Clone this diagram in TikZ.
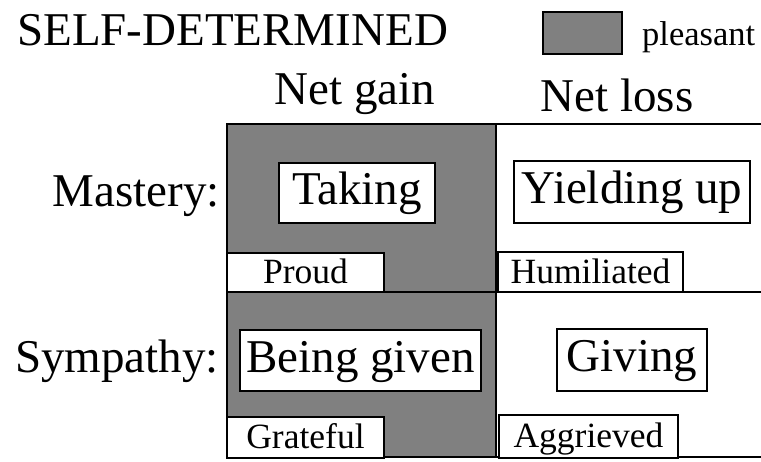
\documentclass[tikz,border=0pt]{standalone}
\usepackage{fontspec}
\setmainfont{Liberation Serif}
\begin{document}
\begin{tikzpicture}[x=1pt,y=-1pt,
  big/.style={font=\fontsize{47}{50}\selectfont},
  small/.style={font=\fontsize{35.5}{38}\selectfont},
  gridline/.style={line width=1.8pt,line cap=rect},
  cellbox/.style={draw,line width=1.8pt,fill=white,inner sep=0pt},
  bigbox/.style={cellbox,big,text height=33pt,text depth=10pt},
  smallbox/.style={cellbox,small,text height=26pt,text depth=4pt},
]
\useasboundingbox (0,0) rectangle (761,461);
% shaded column
\fill[gray] (227,124) rectangle (496,457);
% grid
\coordinate (tl) at (227,124);
\coordinate (tr) at (761,124);
\coordinate (ml) at (227,292);
\coordinate (mr) at (761,292);
\coordinate (bl) at (227,457);
\coordinate (br) at (761,457);
\coordinate (vt) at (496,124);
\coordinate (vb) at (496,457);
\draw[gridline] (tr) -- (tl) -- (bl) -- (br);
\draw[gridline] (ml) -- (mr);
\draw[gridline] (vt) -- (vb);
% title and legend
\node[big,anchor=base west,inner sep=0pt] (title) at (17,45) {SELF-DETERMINED};
\node[draw,line width=2.2pt,fill=gray,minimum width=79pt,minimum height=42pt,inner sep=0pt] (legbox) at (582.5,33) {};
\node[font=\fontsize{34.5}{37}\selectfont,anchor=base west,inner sep=0pt] (legtext) at (642,45) {pleasant};
% column headers
\node[big,anchor=base,inner sep=0pt] (gain) at (355,104) {Net gain};
\node[big,anchor=base,inner sep=0pt] (loss) at (617,111) {Net loss};
% row headers
\node[big,anchor=base east,inner sep=0pt] (mastery) at (220,206) {Mastery:};
\node[big,anchor=base east,inner sep=0pt] (sympathy) at (219,372) {Sympathy:};
% cells
\node[bigbox,minimum width=156pt,minimum height=60pt] (taking) at (357,193) {Taking};
\node[bigbox,minimum width=236pt,minimum height=62pt] (yielding) at (632,192) {Yielding up};
\node[smallbox,minimum width=157pt,minimum height=39pt] (proud) at (305.5,272.5) {Proud};
\node[smallbox,minimum width=185pt,minimum height=40pt] (humiliated) at (590.5,272) {Humiliated};
\node[bigbox,minimum width=241pt,minimum height=61pt] (beinggiven) at (360.5,360.5) {Being given};
\node[bigbox,minimum width=150pt,minimum height=62pt] (giving) at (632,360) {Giving};
\node[smallbox,minimum width=157pt,minimum height=41pt] (grateful) at (305.5,437.5) {Grateful};
\node[smallbox,minimum width=179pt,minimum height=43pt] (aggrieved) at (588.5,436.5) {Aggrieved};
\end{tikzpicture}
\end{document}
